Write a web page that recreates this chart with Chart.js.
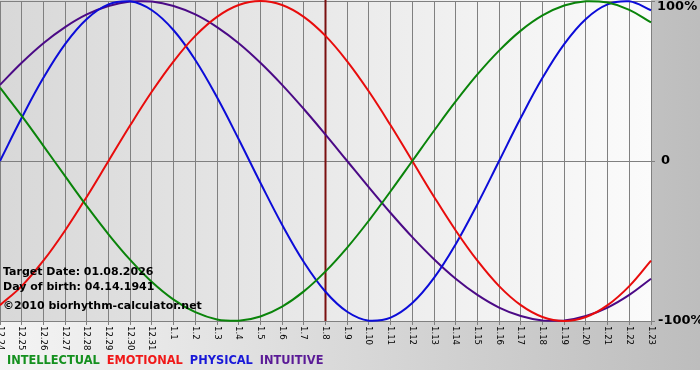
<!DOCTYPE html>
<html><head><meta charset="utf-8">
<script src="https://cdn.jsdelivr.net/npm/chart.js@4"></script>
<style>html,body{margin:0;padding:0;background:#fff;}#wrap{position:relative;width:700px;height:380px;}</style>
</head><body><div id="wrap"><canvas id="c" width="700" height="380"></canvas></div>
<script>
const days = ['12.24','12.25','12.26','12.27','12.28','12.29','12.30','12.31','1.1','1.2','1.3','1.4','1.5','1.6','1.7','1.8','1.9','1.10','1.11','1.12','1.13','1.14','1.15','1.16','1.17','1.18','1.19','1.20','1.21','1.22','1.23'];
const intellectual = [0.458,0.282,0.095,-0.095,-0.282,-0.458,-0.618,-0.756,-0.866,-0.945,-0.990,-0.999,-0.972,-0.910,-0.815,-0.690,-0.541,-0.372,-0.189,0.000,0.189,0.372,0.541,0.690,0.815,0.910,0.972,0.999,0.990,0.945,0.866];
const emotional = [-0.901,-0.782,-0.623,-0.434,-0.223,0.000,0.223,0.434,0.623,0.782,0.901,0.975,1.000,0.975,0.901,0.782,0.623,0.434,0.223,0.000,-0.223,-0.434,-0.623,-0.782,-0.901,-0.975,-1.000,-0.975,-0.901,-0.782,-0.623];
const physical = [0.000,0.270,0.520,0.731,0.888,0.979,0.998,0.942,0.817,0.631,0.398,0.136,-0.136,-0.398,-0.631,-0.817,-0.942,-0.998,-0.979,-0.888,-0.731,-0.520,-0.270,0.000,0.270,0.520,0.731,0.888,0.979,0.998,0.942];
const intuitive = [0.476,0.614,0.736,0.837,0.916,0.969,0.997,0.997,0.969,0.916,0.837,0.736,0.614,0.476,0.325,0.165,0.000,-0.165,-0.325,-0.476,-0.614,-0.736,-0.837,-0.916,-0.969,-0.997,-0.997,-0.969,-0.916,-0.837,-0.736];
const yTicks = [1, 0, -1];
const yTickLabels = ['100%', '0', '-100%'];
const seriesNames = ['INTELLECTUAL', 'EMOTIONAL', 'PHYSICAL', 'INTUITIVE'];
const infoLines = ['Target Date: 01.08.2026', 'Day of birth: 04.14.1941', '\u00A92010 biorhythm-calculator.net'];
const targetDay = '1.8';

const lineColors = ['#0a840a', '#e80c0c', '#0c0cd8', '#4b0a86'];
const legendColors = ['#14901e', '#f01818', '#1818d8', '#5a1a96'];

const deco = {
  id: 'deco',
  beforeDraw(chart) {
    const { ctx, chartArea: a } = chart;
    ctx.save();
    const g = ctx.createLinearGradient(0, 0, 700, 0);
    g.addColorStop(0, '#f4f4f4');
    g.addColorStop(1, '#bdbdbd');
    ctx.fillStyle = g;
    ctx.fillRect(0, 0, 700, 370);
    const g2 = ctx.createLinearGradient(a.left, 0, a.right, 0);
    g2.addColorStop(0, '#d8d8d8');
    g2.addColorStop(1, '#fbfbfb');
    ctx.fillStyle = g2;
    ctx.fillRect(a.left, 0, a.right - a.left, a.bottom);
    ctx.restore();
  },
  beforeDatasetsDraw(chart) {
    const { ctx, chartArea: a, scales } = chart;
    const x = scales.x.getPixelForValue(days.indexOf(targetDay));
    ctx.save();
    ctx.strokeStyle = '#7a1010';
    ctx.lineWidth = 2;
    ctx.beginPath();
    ctx.moveTo(x, 0);
    ctx.lineTo(x, a.bottom);
    ctx.stroke();
    ctx.restore();
  },
  afterDraw(chart) {
    const { ctx, chartArea: a, scales } = chart;
    ctx.save();
    ctx.fillStyle = '#000';
    ctx.font = '9.5px "DejaVu Sans Condensed", "DejaVu Sans", sans-serif';
    ctx.textAlign = 'left';
    ctx.textBaseline = 'middle';
    days.forEach((d, i) => {
      const x = scales.x.getPixelForTick(i);
      ctx.save();
      ctx.translate(x, a.bottom + 5);
      ctx.rotate(Math.PI / 2);
      ctx.fillText(d, 0, 0);
      ctx.restore();
    });
    ctx.font = 'bold 13px "DejaVu Sans", sans-serif';
    yTicks.forEach((v, i) => {
      let y = scales.y.getPixelForValue(v);
      if (y < 7) y = 7;
      const t = yTickLabels[i];
      const lx = t === '0' ? a.right + 10 : (t.startsWith('-') ? a.right + 7 : a.right + 6);
      ctx.fillText(t, lx, y);
    });
    ctx.font = 'bold 11px "DejaVu Sans", sans-serif';
    ctx.fillText(infoLines[0], 3, 272);
    ctx.fillText(infoLines[1], 3, 287);
    ctx.fillText(infoLines[2], 3, 306);
    ctx.font = 'bold 11.4px "DejaVu Sans", sans-serif';
    const starts = [7];
    let lx = 7;
    seriesNames.forEach((n, i) => {
      ctx.fillStyle = legendColors[i];
      ctx.fillText(n, lx, 361.5);
      lx += ctx.measureText(n).width + 7;
    });
    ctx.restore();
  }
};

const mk = (data, i) => ({
  label: seriesNames[i], data, borderColor: lineColors[i], backgroundColor: lineColors[i],
  borderWidth: 2, pointRadius: 0, tension: 0.4, fill: false, clip: 3
});

new Chart(document.getElementById('c'), {
  type: 'line',
  data: {
    labels: days,
    datasets: [mk(intellectual, 0), mk(emotional, 1), mk(physical, 2), mk(intuitive, 3)]
  },
  options: {
    responsive: false,
    devicePixelRatio: 1,
    animation: false,
    layout: { padding: { top: 1, bottom: 10, left: 0, right: 0 } },
    plugins: { legend: { display: false }, tooltip: { enabled: false } },
    scales: {
      x: {
        type: 'category',
        offset: false,
        grid: { color: '#808080', lineWidth: 1, drawTicks: true, tickLength: 4, tickColor: '#808080' },
        border: { display: true, color: '#808080' },
        ticks: { display: false, autoSkip: false },
        afterFit: s => { s.height = 49; }
      },
      y: {
        position: 'right',
        min: -1, max: 1,
        afterBuildTicks: s => { s.ticks = yTicks.map(v => ({ value: v })); },
        grid: { color: '#808080', lineWidth: 1, drawTicks: true, tickLength: 4, tickColor: '#808080' },
        border: { display: true, color: '#808080' },
        ticks: { display: false },
        afterFit: s => { s.width = 49; }
      }
    }
  },
  plugins: [deco]
});
</script>
</body></html>
